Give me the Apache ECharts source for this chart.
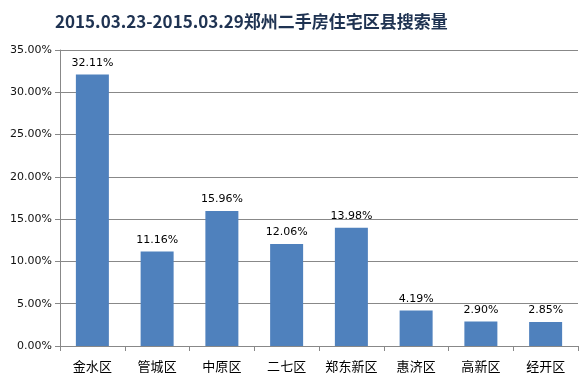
<!DOCTYPE html>
<html><head><meta charset="utf-8">
<script src="https://cdn.jsdelivr.net/npm/echarts@6/dist/echarts.min.js"></script>
<style>html,body{margin:0;padding:0;background:#fff}#c{width:586px;height:388px}</style>
</head><body><div id="c"></div>
<script>
const categories = ['金水区','管城区','中原区','二七区','郑东新区','惠济区','高新区','经开区'];
const values = [32.11, 11.16, 15.96, 12.06, 13.98, 4.19, 2.90, 2.85];
const titleText = '2015.03.23-2015.03.29郑州二手房住宅区县搜索量';
const chart = echarts.init(document.getElementById('c'));
chart.setOption({
  animation: false,
  title: {text: titleText, left: 50, top: 8,
    textStyle: {fontSize: 17, fontWeight: 'bold', color: '#1f3352', fontFamily: 'Noto Sans CJK SC'}},
  grid: {left: 60, right: 8, top: 50, bottom: 42},
  xAxis: {type: 'category', data: categories,
    axisLine: {lineStyle: {color: '#888'}},
    axisTick: {show: true, interval: 0, alignWithLabel: false, length: 5, lineStyle: {color: '#888'}},
    axisLabel: {interval: 0, color: '#000', fontSize: 13, margin: 14, fontFamily: 'Noto Sans CJK SC'}},
  yAxis: {type: 'value', min: 0, max: 35, interval: 5,
    axisLine: {show: true, lineStyle: {color: '#888'}},
    axisTick: {show: true, length: 5, inside: false, lineStyle: {color: '#888'}},
    splitLine: {lineStyle: {color: '#888'}},
    axisLabel: {color: '#111', fontSize: 11, margin: 8, formatter: v => v.toFixed(2) + '%', fontFamily: 'DejaVu Sans'}},
  series: [{type: 'bar', data: values, barWidth: 33,
    itemStyle: {color: '#4f81bd'},
    label: {show: true, position: 'top', distance: 6, color: '#000', fontSize: 11, fontFamily: 'DejaVu Sans',
      formatter: p => p.value.toFixed(2) + '%'}}]
});
</script></body></html>
